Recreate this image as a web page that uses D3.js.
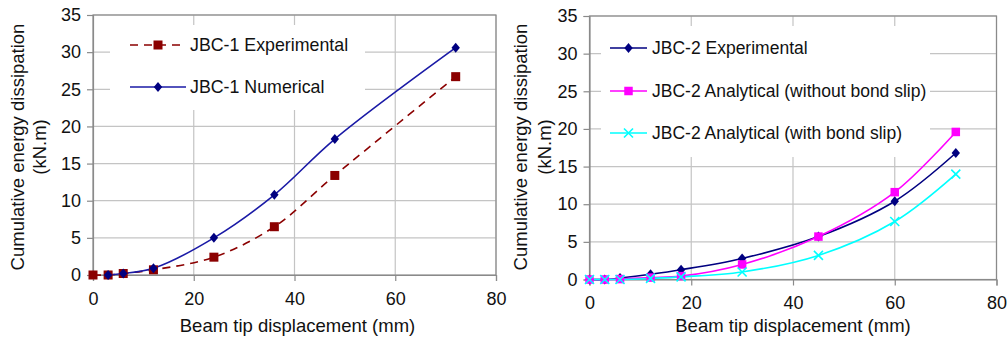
<!DOCTYPE html>
<html><head><meta charset="utf-8">
<script src="https://cdn.jsdelivr.net/npm/d3@7"></script>
<style>
html,body{margin:0;padding:0;background:#fff;}
svg text{font-family:"Liberation Sans",Arial,sans-serif;fill:#111;}
</style></head>
<body><svg id="c" width="1008" height="340"></svg>
<script>
// ---------- data ----------
const xTicks = [0, 20, 40, 60, 80];
const yTicks = [0, 5, 10, 15, 20, 25, 30, 35];
const xTitle = "Beam tip displacement (mm)";
const yTitle1 = "Cumulative energy dissipation";
const yTitle2 = "(kN.m)";

// Left chart (JBC-1)
const jbc1ExpX = [0, 3, 6, 12, 24, 36, 48, 72];
const jbc1ExpY = [0, 0, 0.2, 0.7, 2.4, 6.5, 13.4, 26.7];
const jbc1NumX = [3, 6, 12, 24, 36, 48, 72];
const jbc1NumY = [0, 0.2, 0.9, 5.0, 10.8, 18.3, 30.6];

// Right chart (JBC-2)
const jbc2X = [0, 3, 6, 12, 18, 30, 45, 60, 72];
const jbc2ExpY = [0, 0, 0.2, 0.7, 1.3, 2.8, 5.7, 10.4, 16.8];
const jbc2NoSlipY = [0, 0, 0.05, 0.25, 0.45, 2.0, 5.7, 11.6, 19.6];
const jbc2SlipY = [0, 0, 0, 0.15, 0.35, 1.0, 3.2, 7.7, 14.0];

const leftSeries = [
  {name: "JBC-1 Experimental", x: jbc1ExpX, y: jbc1ExpY, color: "#8b0000", marker: "square", dash: "8,6"},
  {name: "JBC-1 Numerical", x: jbc1NumX, y: jbc1NumY, color: "#1a1aa6", markerColor: "#000080", marker: "diamond", dash: null}
];
const rightSeries = [
  {name: "JBC-2 Experimental", x: jbc2X, y: jbc2ExpY, color: "#000080", marker: "diamond", dash: null},
  {name: "JBC-2 Analytical (without bond slip)", x: jbc2X, y: jbc2NoSlipY, color: "#ff00ff", marker: "square", dash: null},
  {name: "JBC-2 Analytical (with bond slip)", x: jbc2X, y: jbc2SlipY, color: "#00ffff", marker: "cross", dash: null}
];

const svg = d3.select("#c");

function marker(g, type, color, size) {
  if (type === "square") {
    g.append("rect").attr("x", -size/2).attr("y", -size/2).attr("width", size).attr("height", size).attr("fill", color);
  } else if (type === "diamond") {
    g.append("path").attr("d", "M0,-5L4.2,0L0,5L-4.2,0Z").attr("fill", color);
  } else if (type === "cross") {
    g.append("path").attr("d", "M-4.5,-4.5L4.5,4.5M-4.5,4.5L4.5,-4.5").attr("stroke", color).attr("stroke-width", 1.6).attr("fill", "none");
  }
}

function drawChart(cfg) {
  const g = svg.append("g");
  const x = d3.scaleLinear().domain([0, 80]).range([cfg.x0, cfg.x1]);
  const y = d3.scaleLinear().domain([0, 35]).range([cfg.y0, cfg.y1]);

  // gridlines
  g.append("g").selectAll("line.h").data(yTicks.slice(1)).join("line")
    .attr("x1", cfg.x0).attr("x2", cfg.x1).attr("y1", d => y(d)).attr("y2", d => y(d))
    .attr("stroke", "#c4c4c4").attr("stroke-width", 1.2);
  g.append("g").selectAll("line.v").data(xTicks.slice(1)).join("line")
    .attr("x1", d => x(d)).attr("x2", d => x(d)).attr("y1", cfg.y1).attr("y2", cfg.y0)
    .attr("stroke", "#c4c4c4").attr("stroke-width", 1.2);
  // plot border
  g.append("rect").attr("x", cfg.x0).attr("y", cfg.y1).attr("width", cfg.x1 - cfg.x0).attr("height", cfg.y0 - cfg.y1)
    .attr("fill", "none").attr("stroke", "#8a8a8a").attr("stroke-width", 1.2);

  // legend background
  g.append("rect").attr("x", cfg.legBox[0]).attr("y", cfg.legBox[1]).attr("width", cfg.legBox[2]).attr("height", cfg.legBox[3]).attr("fill", "#fff");

  // axes
  const ya = d3.axisLeft(y).tickValues(yTicks).tickSize(6).tickPadding(6);
  const xa = d3.axisBottom(x).tickValues(xTicks).tickSize(6).tickPadding(11);
  const gy = g.append("g").attr("transform", `translate(${cfg.x0},0)`).call(ya);
  const gx = g.append("g").attr("transform", `translate(0,${cfg.y0})`).call(xa);
  [gy, gx].forEach(a => {
    a.select(".domain").attr("stroke", "#8a8a8a").attr("stroke-width", 1.2);
    a.selectAll(".tick line").attr("stroke", "#8a8a8a").attr("stroke-width", 1.2);
    a.selectAll(".tick text").style("font-size", "18px").style("font-family", '"Liberation Sans",Arial,sans-serif').attr("fill", "#111");
  });

  // series
  const line = d3.line().x(d => x(d[0])).y(d => y(d[1])).curve(d3.curveCatmullRom.alpha(0.5));
  cfg.series.forEach(s => {
    const pts = s.x.map((v, i) => [v, s.y[i]]);
    g.append("path").attr("d", line(pts)).attr("fill", "none").attr("stroke", s.color)
      .attr("stroke-width", 1.6).attr("stroke-dasharray", s.dash);
  });
  cfg.series.forEach(s => {
    const pts = s.x.map((v, i) => [v, s.y[i]]);
    pts.forEach(p => {
      const mg = g.append("g").attr("transform", `translate(${x(p[0])},${y(p[1])})`);
      marker(mg, s.marker, s.markerColor || s.color, cfg.msize);
    });
  });

  // legend
  cfg.series.forEach((s, i) => {
    const ly = cfg.legY[i];
    g.append("line").attr("x1", cfg.legLine[0]).attr("x2", cfg.legLine[1]).attr("y1", ly).attr("y2", ly)
      .attr("stroke", s.color).attr("stroke-width", 1.6).attr("stroke-dasharray", s.dash);
    const mg = g.append("g").attr("transform", `translate(${(cfg.legLine[0] + cfg.legLine[1]) / 2},${ly})`);
    marker(mg, s.marker, s.markerColor || s.color, cfg.msize);
    g.append("text").attr("x", cfg.legText).attr("y", ly).attr("dy", "0.36em")
      .style("font-size", cfg.legFont + "px").text(s.name);
  });

  // titles
  g.append("text").attr("x", (cfg.x0 + cfg.x1) / 2 + cfg.xTitleShift).attr("y", 332).attr("text-anchor", "middle")
    .style("font-size", "18.5px").text(xTitle);
  const cy = 147;
  g.append("text").attr("transform", `translate(${cfg.yt1},${cy}) rotate(-90)`).attr("text-anchor", "middle")
    .style("font-size", "18.5px").text(yTitle1);
  g.append("text").attr("transform", `translate(${cfg.yt2},${cy}) rotate(-90)`).attr("text-anchor", "middle")
    .style("font-size", "18.5px").text(yTitle2);
}

drawChart({
  x0: 93, x1: 496, y0: 275, y1: 15,
  series: leftSeries, msize: 9,
  legBox: [110, 25, 255, 85], legY: [45, 87], legLine: [130, 186], legText: 190, legFont: 17.8,
  xTitleShift: 3, yt1: 24, yt2: 46
});
drawChart({
  x0: 589.5, x1: 996.5, y0: 279.5, y1: 16,
  series: rightSeries, msize: 8.5,
  legBox: [601, 26, 329, 131], legY: [48, 91, 133], legLine: [610, 647], legText: 652, legFont: 17.5,
  xTitleShift: 0, yt1: 527, yt2: 551
});
</script></body></html>
